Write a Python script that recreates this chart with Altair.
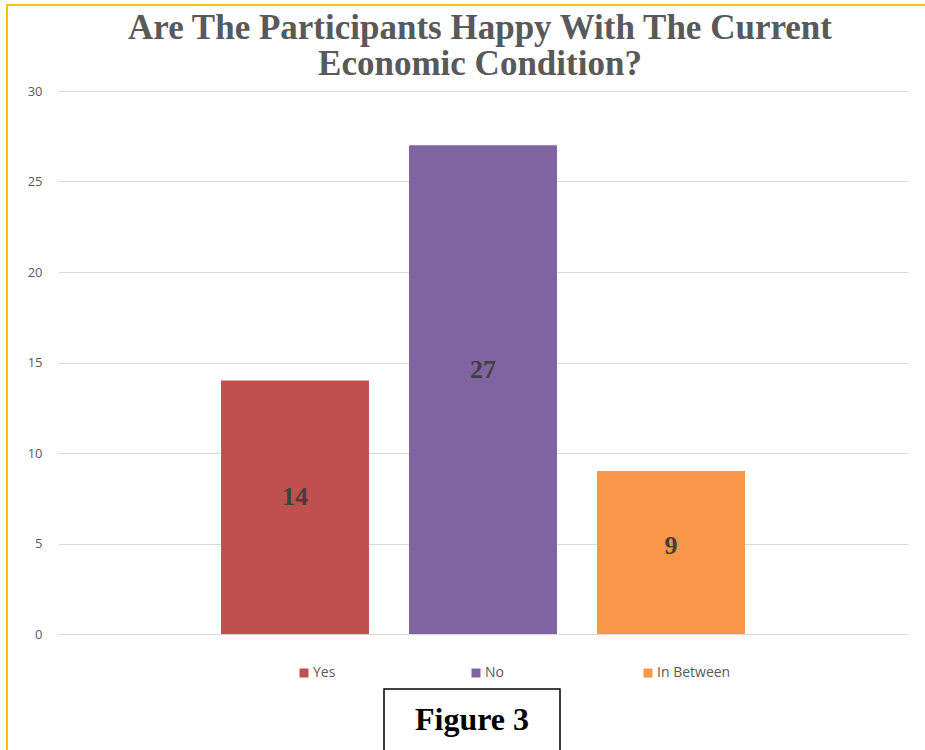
import altair as alt
import pandas as pd

categories = ["Yes", "No", "In Between"]
values = [14, 27, 9]
colors = ["#C0504D", "#8064A2", "#F79646"]
title_text = "Are The Participants Happy With The Current\nEconomic Condition?"
y_ticks = [0, 5, 10, 15, 20, 25, 30]
figure_label = "Figure 3"

df = pd.DataFrame({"category": categories, "value": values})

W, H = 850, 543
PAD_L, PAD_T = 58, 91

xscale = alt.Scale(domain=categories, paddingInner=0.213, paddingOuter=0.867)
yscale = alt.Scale(domain=[0, 30], nice=False)

base = alt.Chart(df)

bars = base.mark_bar().encode(
    x=alt.X("category:N", scale=xscale, axis=None, sort=categories),
    y=alt.Y(
        "value:Q",
        scale=yscale,
        axis=alt.Axis(
            values=y_ticks,
            title=None,
            domain=False,
            ticks=False,
            grid=True,
            gridColor="#d9d9d9",
            gridWidth=1,
            labelFont="Open Sans",
            labelFontSize=13,
            labelColor="#595959",
            labelPadding=16,
        ),
    ),
    color=alt.Color(
        "category:N",
        sort=categories,
        scale=alt.Scale(domain=categories, range=colors),
        legend=alt.Legend(
            title=None,
            orient="none",
            legendX=239,
            legendY=575,
            direction="horizontal",
            columns=3,
            gridAlign="all",
            columnPadding=82,
            symbolType="square",
            symbolSize=81,
            symbolStrokeWidth=0,
            labelOffset=2,
            labelFont="Open Sans",
            labelFontSize=14,
            labelColor="#595959",
            padding=0,
        ),
    ),
)

labels = base.transform_calculate(label_y="datum.value * 0.54").mark_text(
    font="Liberation Serif",
    fontWeight="bold",
    fontSize=26,
    color="#404040",
    baseline="middle",
    align="center",
).encode(
    x=alt.X("category:N", scale=xscale, sort=categories),
    y=alt.Y("label_y:Q", scale=yscale),
    text=alt.Text("value:Q"),
)

one = alt.Data(values=[{"k": 1}])

border = alt.Chart(one).mark_rect(
    fill=None, fillOpacity=0, stroke="#FFC000", strokeWidth=2
).encode(
    x=alt.value(7 - PAD_L),
    x2=alt.value(2000),
    y=alt.value(5 - PAD_T),
    y2=alt.value(2000),
)

title = alt.Chart(one).mark_text(
    font="Liberation Serif",
    fontWeight="bold",
    fontSize=35,
    lineHeight=36,
    lineBreak="\n",
    color="#595959",
    align="center",
    baseline="alphabetic",
).encode(
    x=alt.value(480 - PAD_L),
    y=alt.value(39 - PAD_T),
    text=alt.value(title_text),
)

fig_box = alt.Chart(one).mark_rect(
    fill="white", stroke="black", strokeWidth=1.5
).encode(
    x=alt.value(384 - PAD_L),
    x2=alt.value(560 - PAD_L),
    y=alt.value(689 - PAD_T),
    y2=alt.value(780 - PAD_T),
)

fig_text = alt.Chart(one).mark_text(
    font="Liberation Serif",
    fontWeight="bold",
    fontSize=32,
    color="black",
    align="center",
    baseline="alphabetic",
).encode(
    x=alt.value(472 - PAD_L),
    y=alt.value(730 - PAD_T),
    text=alt.value(figure_label),
)

chart = (
    alt.layer(border, bars, labels, title, fig_box, fig_text)
    .properties(
        width=W,
        height=H,
        padding={"left": PAD_L, "top": PAD_T, "right": 925 - PAD_L - W, "bottom": 750 - PAD_T - H},
        autosize=alt.AutoSizeParams(type="none"),
    )
    .configure_view(stroke=None)
)

chart.save("out.html", embed_options={"renderer": "svg", "actions": False})
